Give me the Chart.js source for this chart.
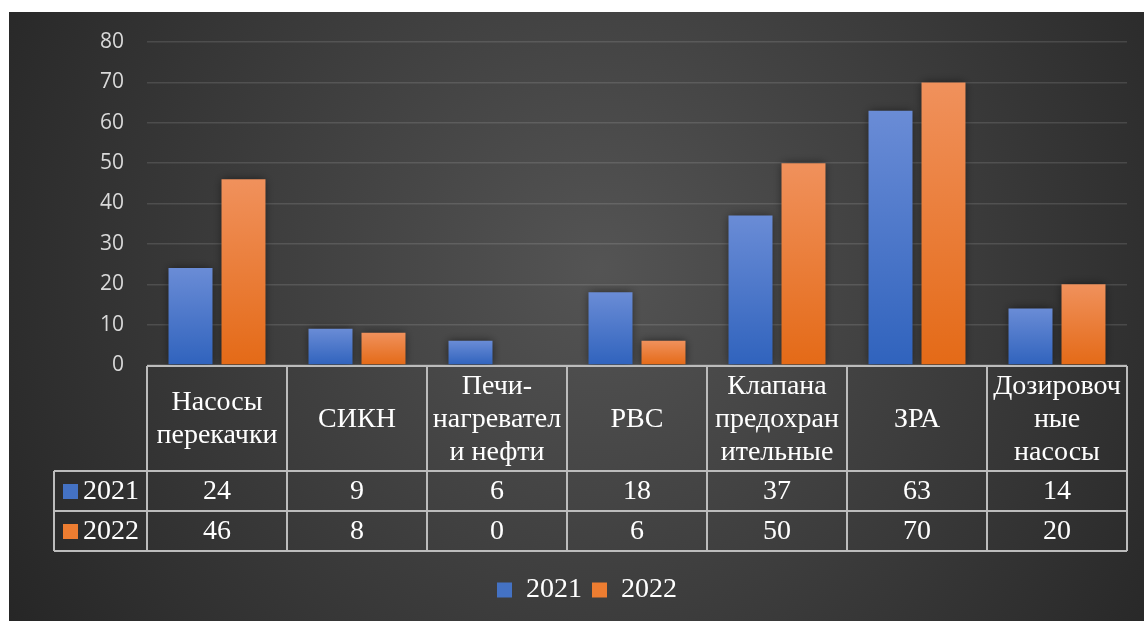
<!DOCTYPE html>
<html>
<head>
<meta charset="utf-8">
<script src="https://cdn.jsdelivr.net/npm/chart.js@4/dist/chart.umd.min.js"></script>
<style>
  html, body { margin: 0; padding: 0; background: #ffffff; width: 1144px; height: 621px; overflow: hidden; }
  #c { position: absolute; left: 9px; top: 12px; }
</style>
</head>
<body>
<canvas id="c" width="1135" height="609"></canvas>
<script>
// ---- data ----
const categories = [
  ['Насосы', 'перекачки'],
  ['СИКН'],
  ['Печи-', 'нагревател', 'и нефти'],
  ['РВС'],
  ['Клапана', 'предохран', 'ительные'],
  ['ЗРА'],
  ['Дозировоч', 'ные', 'насосы']
];
const seriesNames = ['2021', '2022'];
const values2021 = [24, 9, 6, 18, 37, 63, 14];
const values2022 = [46, 8, 0, 6, 50, 70, 20];
const yMax = 80;
const yStep = 10;

// ---- styles ----
const blueTop = '#6a8cd6', blueBottom = '#3063bd', blueSolid = '#4472c4';
const orangeTop = '#f0915c', orangeBottom = '#e46a17', orangeSolid = '#ed7d31';
const serif = '"Liberation Serif", "Times New Roman", serif';
const tableFontSize = 28;

function barGradient(top, bottom) {
  return (ctx) => {
    const chart = ctx.chart;
    if (!chart.chartArea || ctx.type !== 'data') return bottom;
    const y = chart.scales.y;
    const v = ctx.raw || 0;
    const y0 = y.getPixelForValue(0), y1 = y.getPixelForValue(v);
    if (!isFinite(y1) || Math.abs(y0 - y1) < 1) return bottom;
    const g = chart.ctx.createLinearGradient(0, y1, 0, y0);
    g.addColorStop(0, top);
    g.addColorStop(1, bottom);
    return g;
  };
}

const bgPlugin = {
  id: 'bg',
  beforeDraw(chart) {
    const c = chart.ctx, w = chart.width, h = chart.height;
    c.save();
    const g = c.createRadialGradient(w * 0.52, h * 0.42, 0, w * 0.52, h * 0.42, w * 0.62);
    g.addColorStop(0, '#545454');
    g.addColorStop(1, '#252525');
    c.fillStyle = g;
    c.fillRect(0, 0, w, h);
    c.restore();
  }
};

const shadowPlugin = {
  id: 'shadow',
  beforeDatasetsDraw(chart) {
    const c = chart.ctx;
    c.save();
    c.shadowColor = 'rgba(0,0,0,0.55)';
    c.shadowBlur = 9;
    c.shadowOffsetX = 0;
    c.shadowOffsetY = 0;
  },
  afterDatasetsDraw(chart) { chart.ctx.restore(); }
};

const tablePlugin = {
  id: 'dataTable',
  afterDraw(chart) {
    const c = chart.ctx, x = chart.scales.x, ca = chart.chartArea;
    const n = categories.length;
    const colW = (ca.right - ca.left) / n;
    const top = ca.bottom + 1;
    const headerH = 105, rowH = 40;
    const leftCol = 45;
    const r1 = top + headerH, r2 = r1 + rowH, r3 = r2 + rowH;
    c.save();
    c.strokeStyle = '#bcbcbc';
    c.lineWidth = 2;
    c.beginPath();
    c.moveTo(ca.left, top); c.lineTo(ca.right, top);
    [r1, r2, r3].forEach(yy => { c.moveTo(leftCol, yy); c.lineTo(ca.right, yy); });
    for (let i = 0; i <= n; i++) {
      const xx = i < n ? x.getPixelForValue(i) - colW / 2 : x.getPixelForValue(n - 1) + colW / 2;
      c.moveTo(xx, top); c.lineTo(xx, r3);
    }
    c.moveTo(leftCol, r1); c.lineTo(leftCol, r3);
    c.stroke();

    c.fillStyle = '#ffffff';
    c.font = tableFontSize + 'px ' + serif;
    c.textAlign = 'center';
    c.textBaseline = 'middle';
    const lh = 33;
    categories.forEach((lines, i) => {
      const cx = x.getPixelForValue(i);
      const cy = top + headerH / 2;
      lines.forEach((t, k) => {
        c.fillText(t, cx, cy + (k - (lines.length - 1) / 2) * lh + 1);
      });
    });
    const rows = [values2021, values2022];
    const solids = [blueSolid, orangeSolid];
    rows.forEach((vals, ri) => {
      const cy = r1 + rowH * ri + rowH / 2 + 1;
      vals.forEach((v, i) => {
        c.fillStyle = '#ffffff';
        c.fillText(String(v), x.getPixelForValue(i), cy);
      });
      c.fillStyle = solids[ri];
      c.fillRect(leftCol + 9, cy - 8, 15, 15);
      c.fillStyle = '#ffffff';
      c.textAlign = 'left';
      c.fillText(seriesNames[ri], leftCol + 29, cy);
      c.textAlign = 'center';
    });
    c.restore();
  }
};

new Chart(document.getElementById('c'), {
  type: 'bar',
  data: {
    labels: categories,
    datasets: [
      { label: seriesNames[0], data: values2021, backgroundColor: barGradient(blueTop, blueBottom), solid: blueSolid },
      { label: seriesNames[1], data: values2022, backgroundColor: barGradient(orangeTop, orangeBottom), solid: orangeSolid }
    ]
  },
  options: {
    responsive: false,
    animation: false,
    devicePixelRatio: 1,
    datasets: { bar: { categoryPercentage: 0.757, barPercentage: 0.83 } },
    layout: { padding: { left: 38, right: 17, top: 30, bottom: 7 } },
    scales: {
      x: {
        grid: { display: false },
        border: { display: false },
        ticks: { display: false },
        afterFit(s) { s.height = 201; }
      },
      y: {
        min: 0, max: yMax,
        ticks: { stepSize: yStep, color: '#d9d9d9', font: { family: '"Open Sans", sans-serif', size: 21 }, padding: 23 },
        grid: { color: 'rgba(255,255,255,0.12)', lineWidth: 1.5, drawTicks: false },
        border: { display: false },
        afterFit(s) { s.width = 100; s.paddingTop = 0; s.paddingBottom = 0; }
      }
    },
    plugins: {
      legend: {
        position: 'bottom',
        labels: {
          color: '#ffffff',
          font: { family: serif, size: tableFontSize },
          boxWidth: 15, boxHeight: 15, padding: 10,
          generateLabels(chart) {
            return chart.data.datasets.map((ds, i) => ({
              text: ds.label, fillStyle: ds.solid, strokeStyle: ds.solid, lineWidth: 0,
              datasetIndex: i, fontColor: '#ffffff', hidden: false
            }));
          }
        }
      },
      tooltip: { enabled: false }
    }
  },
  plugins: [bgPlugin, shadowPlugin, tablePlugin]
});
</script>
</body>
</html>
